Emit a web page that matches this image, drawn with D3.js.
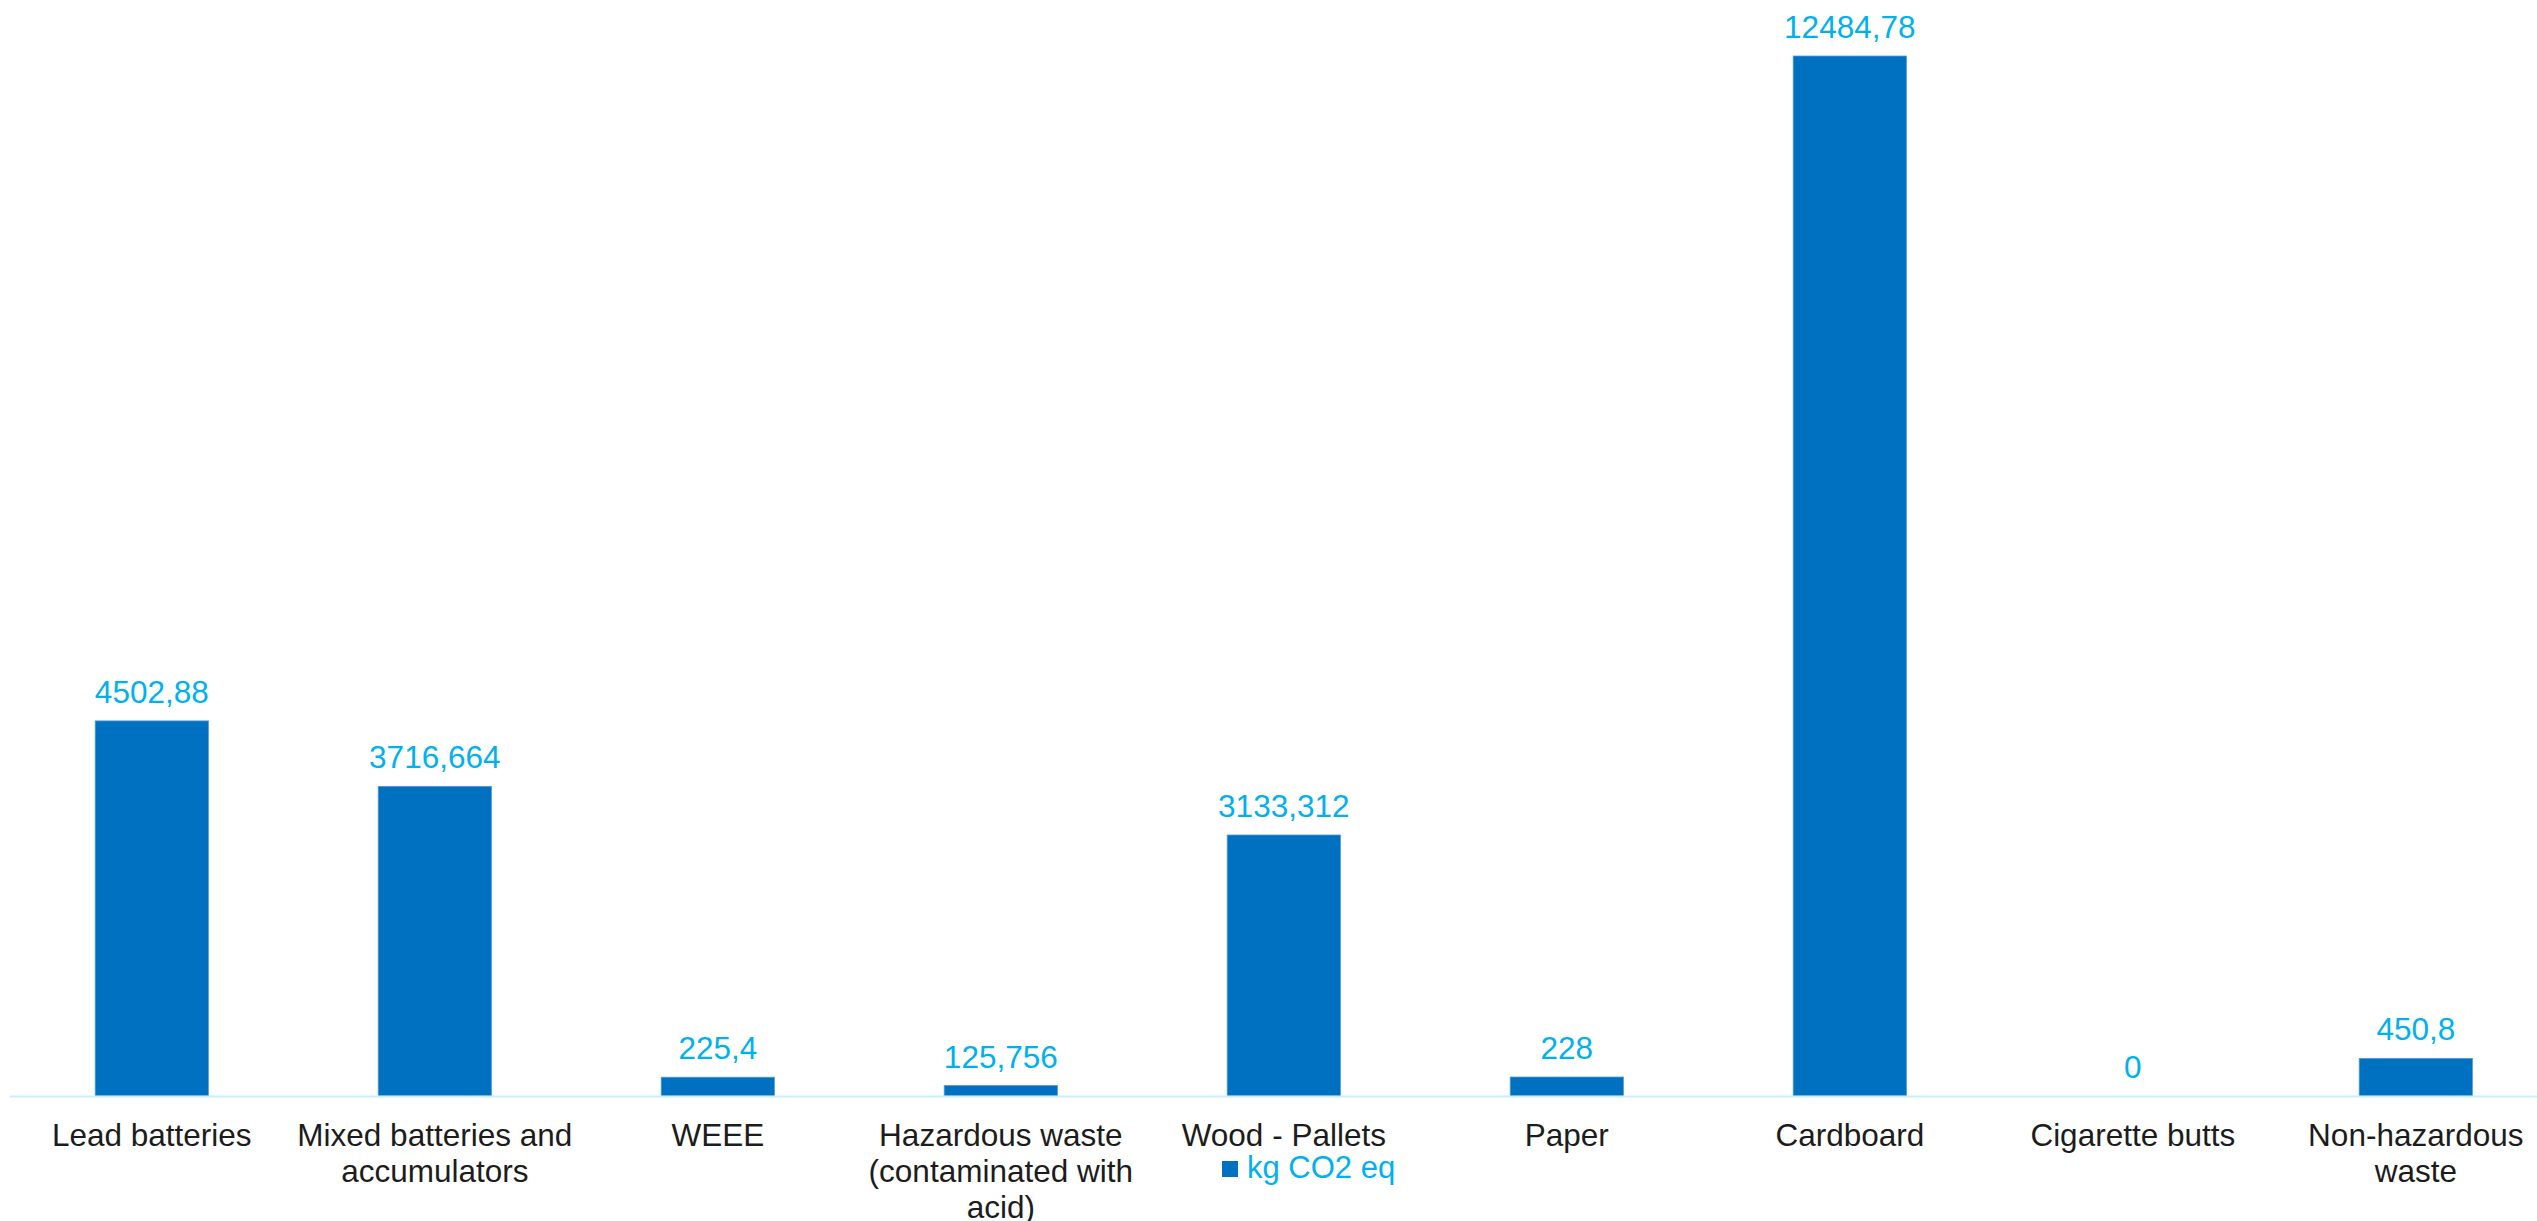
<!DOCTYPE html>
<html>
<head>
<meta charset="utf-8">
<script src="https://cdn.jsdelivr.net/npm/d3@7"></script>
<style>
  html, body { margin: 0; padding: 0; background: #ffffff; }
  svg { display: block; font-family: "Liberation Sans", Arial, sans-serif; }
</style>
</head>
<body>
<script>
// Waste streams (line breaks mark where the axis label wraps)
const categories = [
  "Lead batteries",
  "Mixed batteries and\naccumulators",
  "WEEE",
  "Hazardous waste\n(contaminated with\nacid)",
  "Wood - Pallets",
  "Paper",
  "Cardboard",
  "Cigarette butts",
  "Non-hazardous\nwaste"
];
const values = [4502.88, 3716.664, 225.4, 125.756, 3133.312, 228, 12484.78, 0, 450.8];
const valueLabels = ["4502,88", "3716,664", "225,4", "125,756", "3133,312", "228", "12484,78", "0", "450,8"];
const seriesName = "kg CO2 eq";

const W = 2537, H = 1221;
const baseY = 1096;

const svg = d3.select("body").append("svg")
  .attr("width", W).attr("height", H);

const x = d3.scaleBand()
  .domain(categories)
  .range([10.3, 2557.3])
  .paddingInner(0.6)
  .paddingOuter(0.3);

const y = d3.scaleLinear()
  .domain([0, 13000])
  .range([baseY, baseY - 13000 * 0.0833]);

// Bars
svg.append("g").selectAll("rect")
  .data(values)
  .join("rect")
  .attr("x", (d, i) => x(categories[i]))
  .attr("y", d => y(d))
  .attr("width", x.bandwidth())
  .attr("height", d => y(0) - y(d))
  .attr("fill", "#0070c0")
  .attr("stroke", "#4f9ad8")
  .attr("stroke-width", 0.8);

// Value labels above bars
svg.append("g").selectAll("text")
  .data(values)
  .join("text")
  .attr("x", (d, i) => x(categories[i]) + x.bandwidth() / 2)
  .attr("y", d => y(d) - 18)
  .attr("text-anchor", "middle")
  .attr("font-size", 31.5)
  .attr("fill", "#00b0f0")
  .text((d, i) => valueLabels[i]);

// Category axis
const xAxis = svg.append("g")
  .attr("transform", `translate(0,${baseY + 0.5})`)
  .call(d3.axisBottom(x).tickSize(0).tickFormat(""));
xAxis.select(".domain")
  .attr("d", `M10,0H${W}`)
  .attr("stroke", "#c8effc")
  .attr("stroke-width", 2);

xAxis.selectAll(".tick text").remove();
xAxis.selectAll(".tick").each(function (c) {
  const t = d3.select(this).append("text")
    .attr("text-anchor", "middle")
    .attr("font-size", 31.5)
    .attr("fill", "#1c1c1c")
    .attr("y", 49);
  c.split("\n").forEach((line, k) => {
    t.append("tspan").attr("x", 0).attr("dy", k === 0 ? 0 : 36).text(line);
  });
});

// Legend
const legend = svg.append("g").attr("transform", "translate(1222,1161)");
legend.append("rect")
  .attr("width", 16).attr("height", 16)
  .attr("fill", "#0070c0");
legend.append("text")
  .attr("x", 25).attr("y", 17)
  .attr("font-size", 31)
  .attr("fill", "#00b0f0")
  .text(seriesName);
</script>
</body>
</html>
